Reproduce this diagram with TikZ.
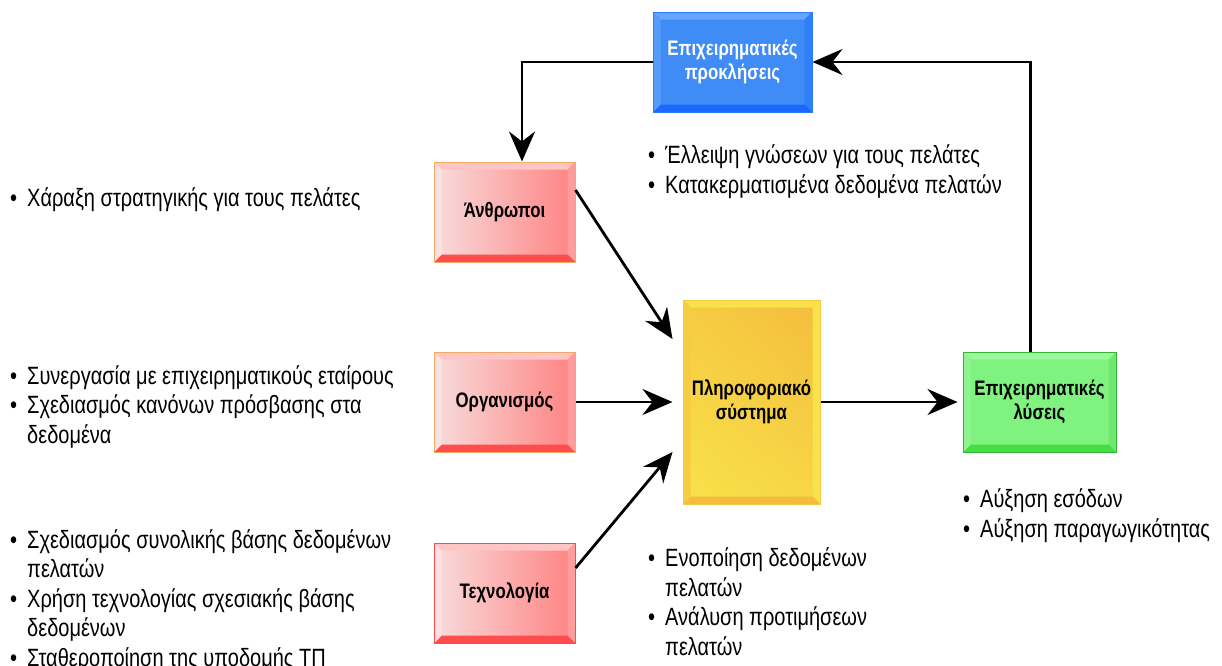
\documentclass[tikz,border=0pt]{standalone}
\usepackage{fontspec}
\setmainfont{Liberation Sans}[FakeStretch=0.80]
\usetikzlibrary{arrows.meta,positioning,shadings}

\definecolor{chalfill}{HTML}{3F8CF6}
\definecolor{chalborder}{HTML}{2A7BFF}
\definecolor{chaltop}{HTML}{66A6FF}
\definecolor{chalbot}{HTML}{1C68FF}
\definecolor{challeft}{HTML}{559CFB}
\definecolor{chalright}{HTML}{2F80F8}
\definecolor{pplleft}{HTML}{F8DCDC}
\definecolor{pplright}{HTML}{FF8282}
\definecolor{pplborder}{HTML}{F2A866}
\definecolor{techborder}{HTML}{FF4848}
\definecolor{ppltop}{HTML}{FFC4C4}
\definecolor{pplbot}{HTML}{FF4C4C}
\definecolor{pplleftb}{HTML}{FAE2E2}
\definecolor{pplrightb}{HTML}{FF9C9C}
\definecolor{infa}{HTML}{F6CC42}
\definecolor{infb}{HTML}{F4BC3C}
\definecolor{infc}{HTML}{F8E24A}
\definecolor{infd}{HTML}{F7D646}
\definecolor{infborder}{HTML}{F5C940}
\definecolor{solfill}{HTML}{80F27F}
\definecolor{solborder}{HTML}{33B533}
\definecolor{soltop}{HTML}{9CF69C}
\definecolor{solbot}{HTML}{44DD44}
\definecolor{solleft}{HTML}{8EF48E}
\definecolor{solright}{HTML}{6EE86E}

\newcommand{\bul}{\makebox[17pt][l]{\textbullet}}
\newcommand{\ind}{\hspace*{17pt}}

\begin{document}
\begin{tikzpicture}[x=1pt, y=-1pt,
    >={Stealth[length=30pt,width=26pt,inset=10pt]},
    every node/.style={inner sep=0pt},
    bevelbox/.style={draw, line width=1pt, minimum width=141pt, minimum height=100pt,
        align=center, font=\bfseries\fontsize{21}{24}\selectfont},
    bevel/.style n args={4}{path picture={
        \fill[#1] (path picture bounding box.north west) -- (path picture bounding box.north east)
            -- ([shift={(-7.5pt,-7.5pt)}]path picture bounding box.north east)
            -- ([shift={(7.5pt,-7.5pt)}]path picture bounding box.north west) -- cycle;
        \fill[#2] (path picture bounding box.north east) -- (path picture bounding box.south east)
            -- ([shift={(-7.5pt,7.5pt)}]path picture bounding box.south east)
            -- ([shift={(-7.5pt,-7.5pt)}]path picture bounding box.north east) -- cycle;
        \fill[#3] (path picture bounding box.south west) -- (path picture bounding box.south east)
            -- ([shift={(-7.5pt,7.5pt)}]path picture bounding box.south east)
            -- ([shift={(7.5pt,7.5pt)}]path picture bounding box.south west) -- cycle;
        \fill[#4] (path picture bounding box.north west) -- (path picture bounding box.south west)
            -- ([shift={(7.5pt,7.5pt)}]path picture bounding box.south west)
            -- ([shift={(7.5pt,-7.5pt)}]path picture bounding box.north west) -- cycle;
        }},
    pplbox/.style={bevelbox, left color=pplleft, right color=pplright, draw=pplborder,
        bevel={ppltop}{pplrightb}{pplbot}{pplleftb}},
    conn/.style={->, line width=2.8pt},
    bullets/.style={anchor=base west, align=left, font=\fontsize{25}{29.5}\selectfont}
    ]
\useasboundingbox (0,0) rectangle (1222,665);

% boxes
\node[bevelbox, minimum width=159pt, fill=chalfill, draw=chalborder, text=white,
    bevel={chaltop}{chalright}{chalbot}{challeft}] (chal) at (732.5,62) {Επιχειρηματικές\\προκλήσεις};
\node[pplbox] (people) at (504.5,212) {Άνθρωποι};
\node[pplbox] (org) at (504.5,402) {Οργανισμός};
\node[pplbox, draw=techborder] (tech) at (504.5,593) {Τεχνολογία};
\node[bevelbox, minimum width=137pt, minimum height=204pt, draw=infborder,
    upper left=infa, upper right=infb, lower left=infc, lower right=infd,
    bevel={infc}{infc}{infb}{infa}] (infsys) at (751.5,402) {Πληροφοριακό\\σύστημα};
\node[bevelbox, minimum width=153pt, fill=solfill, draw=solborder,
    bevel={soltop}{solright}{solbot}{solleft}] (sol) at (1039.5,402) {Επιχειρηματικές\\λύσεις};

% connectors
\draw[conn] (chal.west) -| ([xshift=17.5pt]people.north);
\draw[conn] ([yshift=22pt]people.east) -- ([xshift=-10pt,yshift=63pt]infsys.west);
\draw[conn] (org.east) -- ([xshift=-10pt]infsys.west);
\draw[conn] ([yshift=25pt]tech.east) -- ([xshift=-10pt,yshift=-50pt]infsys.west);
\draw[conn] (infsys.east) -- ([xshift=-5pt]sol.west);
\draw[conn] ([xshift=-9pt]sol.north) |- (chal.east);

% bullet lists (placed at the baseline of their last line)
\node[bullets] (strattxt) at (10,206) {\bul Χάραξη στρατηγικής για τους πελάτες};
\node[bullets] (orgtxt) at (10,443) {\bul Συνεργασία με επιχειρηματικούς εταίρους\\\bul Σχεδιασμός κανόνων πρόσβασης στα\\\ind δεδομένα};
\node[bullets] (techtxt) at (10,666) {\bul Σχεδιασμός συνολικής βάσης δεδομένων\\\ind πελατών\\\bul Χρήση τεχνολογίας σχεσιακής βάσης\\\ind δεδομένων\\\bul Σταθεροποίηση της υποδομής ΤΠ};
\node[bullets] (chaltxt) at (648,193) {\bul Έλλειψη γνώσεων για τους πελάτες\\\bul Κατακερματισμένα δεδομένα πελατών};
\node[bullets] (infstxt) at (648,655) {\bul Ενοποίηση δεδομένων\\\ind πελατών\\\bul Ανάλυση προτιμήσεων\\\ind πελατών};
\node[bullets] (soltxt) at (963,537) {\bul Αύξηση εσόδων\\\bul Αύξηση παραγωγικότητας};
\end{tikzpicture}
\end{document}
